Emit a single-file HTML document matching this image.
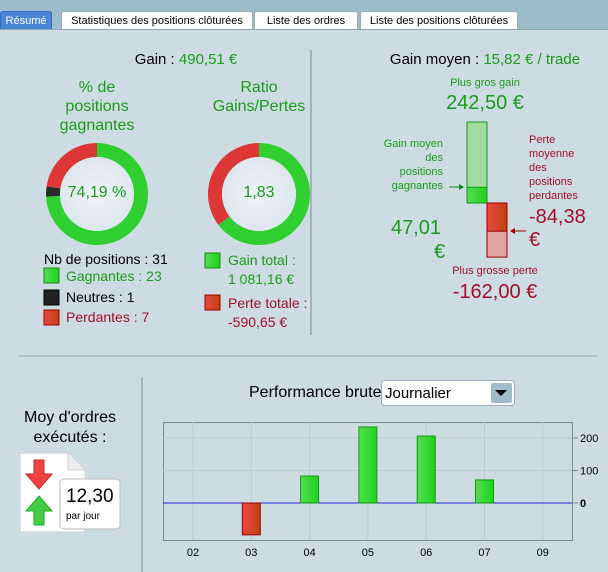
<!DOCTYPE html>
<html><head><meta charset="utf-8"><style>
body{margin:0;width:608px;height:572px;overflow:hidden;background:#cddce3;font-family:"Liberation Sans",sans-serif;position:relative}
.a{position:absolute;white-space:nowrap}
.tab{position:absolute;top:11px;height:18px;background:#fff;border:1px solid #9aa;border-bottom:none;font-size:11px;line-height:18px;text-align:center;border-radius:3px 3px 0 0;box-sizing:border-box}
.g{color:#1a9a1a}.r{color:#a0102a}
</style></head><body>
<div class="a" style="left:0;top:0;width:608px;height:29px;background:#9cbcc9;border-bottom:1px solid #8aa"></div>
<div class="tab" style="left:0;width:52px;background:#4a86d8;color:#fff;border-color:#3a6ab8">Résumé</div>
<div class="tab" style="left:61px;width:192px">Statistiques des positions clôturées</div>
<div class="tab" style="left:254px;width:104px">Liste des ordres</div>
<div class="tab" style="left:360px;width:158px">Liste des positions clôturées</div>

<div class="a" style="left:86px;width:200px;top:51px;font-size:15px;text-align:center">Gain : <span class="g">490,51 €</span></div>
<div class="a" style="left:370px;width:230px;top:51px;font-size:15px;text-align:center">Gain moyen : <span class="g">15,82 € / trade</span></div>
<div class="a" style="left:37px;width:120px;top:78px;font-size:16px;line-height:19px;text-align:center;color:#1a9a1a;white-space:normal">% de<br>positions<br>gagnantes</div>
<div class="a" style="left:199px;width:120px;top:78px;font-size:16px;line-height:19px;text-align:center;color:#1a9a1a">Ratio<br>Gains/Pertes</div>

<svg class="a" style="left:0;top:0" width="608" height="572">
<defs>
<linearGradient id="gg" x1="0" x2="1"><stop offset="0" stop-color="#55dd55"/><stop offset="1" stop-color="#1ed21e"/></linearGradient>
<linearGradient id="rg" x1="0" x2="1"><stop offset="0" stop-color="#ee4444"/><stop offset="1" stop-color="#bb4410"/></linearGradient>
<radialGradient id="cg"><stop offset="0" stop-color="#eef3f6"/><stop offset="1" stop-color="#dde7ee"/></radialGradient>
</defs>
<g id="donuts"></g>
<line x1="311" y1="50" x2="311" y2="335" stroke="#7a8a92"/>
<line x1="18" y1="356" x2="598" y2="356" stroke="#9aa8b0"/>
<line x1="142" y1="378" x2="142" y2="572" stroke="#7a8a92"/>
<g id="avgbars"></g>
<g id="chart"></g>
<rect x="44" y="268" width="15" height="15" fill="url(#gg)" stroke="#118811"/>
<rect x="44" y="290" width="15" height="15" fill="#222" stroke="#000"/>
<rect x="44" y="310" width="15" height="15" fill="url(#rg)" stroke="#900"/>
<rect x="205" y="253" width="15" height="15" fill="url(#gg)" stroke="#118811"/>
<rect x="205" y="295" width="15" height="15" fill="url(#rg)" stroke="#900"/>
<line x1="449" y1="187" x2="462" y2="187" stroke="#118811"/><path d="M464 187 l-5 -3 v6z" fill="#118811"/>
<line x1="526" y1="231" x2="512" y2="231" stroke="#900"/><path d="M510 231 l5 -3 v6z" fill="#900"/>
<path d="M20 453 H68 L85 470 V532 H20Z" fill="#fff" stroke="#ccc"/>
<path d="M68 453 V470 H85" fill="#eee" stroke="#ccc"/>
<path d="M34 460 h10 v14 h8 l-13 15 l-13 -15 h8z" fill="#ee4444" stroke="#c22"/>
<path d="M39 496 l13 15 h-8 v14 h-10 v-14 h-8z" fill="#44cc44" stroke="#2a2"/>
<rect x="60" y="479" width="60" height="50" rx="4" fill="#fff" stroke="#bbb"/>
<rect x="381.5" y="380.5" width="133" height="25" rx="3" fill="#fff" stroke="#9ab"/>
<rect x="491" y="383" width="21" height="20" rx="2" fill="#9fbccb"/>
<path d="M495 390 h12 l-6 6z" fill="#000"/>
</svg>

<div class="a" style="left:47px;width:100px;top:184px;font-size:16px;text-align:center;color:#1a9a1a">74,19 %</div>
<div class="a" style="left:209px;width:100px;top:184px;font-size:16px;text-align:center;color:#1a9a1a">1,83</div>

<div class="a" style="left:44px;top:251px;font-size:14px">Nb de positions : 31</div>
<div class="a g" style="left:66px;top:268px;font-size:14px">Gagnantes : 23</div>
<div class="a" style="left:66px;top:289px;font-size:14px">Neutres : 1</div>
<div class="a r" style="left:66px;top:309px;font-size:14px">Perdantes : 7</div>
<div class="a g" style="left:228px;top:251px;font-size:14px;line-height:19px">Gain total :<br>1 081,16 €</div>
<div class="a r" style="left:228px;top:294px;font-size:14px;line-height:19px">Perte totale :<br>-590,65 €</div>

<div class="a g" style="left:420px;width:130px;top:77px;font-size:11px;text-align:center">Plus gros gain</div>
<div class="a g" style="left:415px;width:140px;top:92px;font-size:20px;text-align:center">242,50 €</div>
<div class="a g" style="left:363px;width:80px;top:137px;font-size:11px;line-height:14px;text-align:right">Gain moyen<br>des<br>positions<br>gagnantes</div>
<div class="a g" style="left:391px;top:216px;font-size:20px;line-height:24px">47,01<br><span style="padding-left:43px">€</span></div>
<div class="a r" style="left:529px;top:133px;font-size:11px;line-height:14px">Perte<br>moyenne<br>des<br>positions<br>perdantes</div>
<div class="a r" style="left:529px;top:206px;font-size:20px;line-height:23px">-84,38<br>€</div>
<div class="a r" style="left:430px;width:130px;top:265px;font-size:11px;text-align:center">Plus grosse perte</div>
<div class="a r" style="left:425px;width:140px;top:281px;font-size:20px;text-align:center">-162,00 €</div>

<div class="a" style="left:0;width:140px;top:408px;font-size:16px;line-height:20px;text-align:center">Moy d'ordres<br>exécutés :</div>
<div class="a" style="left:66px;top:486px;font-size:19px">12,30</div>
<div class="a" style="left:66px;top:511px;font-size:10px">par jour</div>

<div class="a" style="left:249px;top:384px;font-size:16px">Performance brute</div>
<div class="a" style="left:385px;top:385px;font-size:15px">Journalier</div>

<script>
const categories=["02","03","04","05","06","07","09"];
const values=[0,-98,83,234,206,71,0];
const yTicks=[0,100,200];
const winPcts=[23,1,7];
const ratioParts=[1081.16,590.65];
const avgVals=[242.5,47.01,84.38,162.0];
const NS="http://www.w3.org/2000/svg";
function mk(t,a,p){const e=document.createElementNS(NS,t);for(const k in a)e.setAttribute(k,a[k]);p.appendChild(e);return e;}
const dg=document.getElementById('donuts');
function arc(cx,cy,R,r,a0,a1){
 const p=(rad,a)=>[cx+rad*Math.sin(a),cy-rad*Math.cos(a)];const lg=(a1-a0)>Math.PI?1:0;
 const A=p(R,a0),B=p(R,a1),C=p(r,a1),D=p(r,a0);
 return `M${A} A${R},${R} 0 ${lg} 1 ${B} L${C} A${r},${r} 0 ${lg} 0 ${D}Z`;}
function donut(cx,cy,parts,cols,name){let tot=parts.reduce((a,b)=>a+b,0),a=0;
 parts.forEach((v,i)=>{const a1=a+v/tot*2*Math.PI;const e=mk('path',{d:arc(cx,cy,51,37,a,a1),fill:cols[i]},dg);
 
 a=a1;});
 mk('circle',{cx,cy,r:37,fill:'url(#cg)'},dg);}
donut(97,194,winPcts,['#2ecf2e','#2a2a2a','#dd3636'],'win-donut');
donut(259,194,ratioParts,['#2ecf2e','#dd3636'],'ratio-donut');
const ab=document.getElementById('avgbars');const s=81/avgVals[0];const base=203;
let e=mk('rect',{x:467,y:base-avgVals[0]*s,width:20,height:avgVals[0]*s,fill:'#a0dba0',stroke:'#119911'},ab);


e=mk('rect',{x:467,y:base-avgVals[1]*s,width:20,height:avgVals[1]*s,fill:'url(#gg)',stroke:'#119911'},ab);


e=mk('rect',{x:487,y:base,width:20,height:avgVals[3]*s,fill:'#e0a2a2',stroke:'#990000'},ab);


e=mk('rect',{x:487,y:base,width:20,height:avgVals[2]*s,fill:'url(#rg)',stroke:'#990000'},ab);


const cg=document.getElementById('chart');
const L=163,R=572,T=422,B=540,y0=503,ppu=0.325;
const X=i=>193+i*58.3, Y=v=>y0-v*ppu;
mk('rect',{x:L+.5,y:T+.5,width:R-L,height:B-T,fill:'none',stroke:'#7a8a92'},cg);
categories.forEach((c,i)=>{mk('line',{x1:X(i),x2:X(i),y1:T,y2:B,stroke:'#bcc9d0'},cg);
 const t=mk('text',{x:X(i),y:556,'text-anchor':'middle','font-size':11},cg);t.textContent=c;
 
 });
yTicks.forEach(v=>{if(v)mk('line',{x1:L,x2:R,y1:Y(v),y2:Y(v),stroke:'#bcc9d0'},cg);
 mk('line',{x1:R,x2:R+6,y1:Y(v),y2:Y(v),stroke:'#7a8a92'},cg);
 const t=mk('text',{x:580,y:Y(v)+4,'font-size':11,'font-weight':v?'normal':'bold'},cg);t.textContent=v;
 
 });
mk('line',{x1:L,x2:R,y1:y0,y2:y0,stroke:'#2222cc'},cg);
values.forEach((v,i)=>{if(!v)return;const r=mk('rect',{x:X(i)-9,y:Math.min(Y(v),y0),width:18,height:Math.abs(v*ppu),fill:v>0?'url(#gg)':'url(#rg)',stroke:v>0?'#119911':'#990000'},cg);
 
 });
</script>
</body></html>
